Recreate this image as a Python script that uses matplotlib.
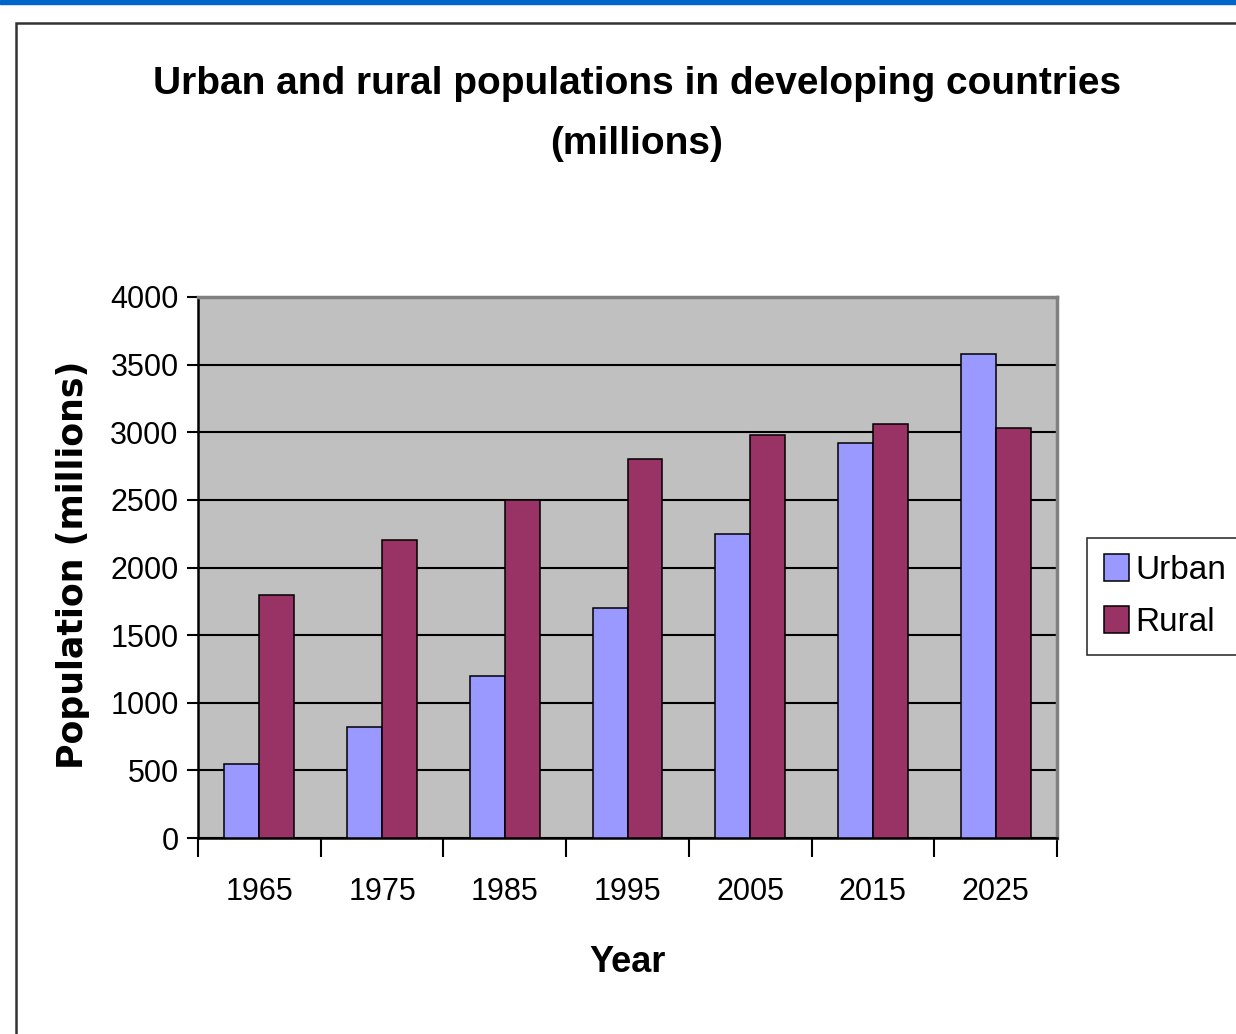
import matplotlib.pyplot as plt
import matplotlib.patches as patches
import numpy as np

years = ['1965', '1975', '1985', '1995', '2005', '2015', '2025']
urban = [550, 820, 1200, 1700, 2250, 2920, 3580]
rural = [1800, 2200, 2500, 2800, 2980, 3060, 3030]

narrow = ['Liberation Sans Narrow', 'Liberation Sans', 'DejaVu Sans']

W, H = 1236, 1034
fig = plt.figure(figsize=(W / 100, H / 100), dpi=100)

# blue strip on top and the outer chart frame
fig.patches.append(patches.Rectangle((0, 1 - 4 / H), 1, 4 / H, transform=fig.transFigure,
                                     color='#0066CC', zorder=0))
fig.patches.append(patches.Rectangle((16 / W, -0.1), 1.2, 1.1 - 23 / H, transform=fig.transFigure,
                                     fill=False, edgecolor='#333333', lw=1.8, zorder=0))

ax = fig.add_axes([198 / W, 196 / H, 859 / W, 541 / H])
ax.set_facecolor('#C0C0C0')

x = np.arange(len(years))
w = 0.285
ax.bar(x - w / 2, urban, w, color='#9999FF', edgecolor='black', lw=1.1, label='Urban', zorder=3)
ax.bar(x + w / 2, rural, w, color='#993366', edgecolor='black', lw=1.1, label='Rural', zorder=3)

ax.set_xlim(-0.5, len(years) - 0.5)
ax.set_ylim(0, 4000)
ax.set_yticks(np.arange(0, 4001, 500))
ax.yaxis.grid(True, color='black', lw=1.5, zorder=1)
ax.set_axisbelow(True)

ax.set_xticks(np.arange(-0.5, len(years), 1))
ax.set_xticklabels([])
ax.set_xticks(x, minor=True)
ax.set_xticklabels(years, minor=True, fontsize=22, family=narrow)
ax.tick_params(axis='x', which='major', length=14, width=1.5, direction='out')
ax.tick_params(axis='x', which='minor', length=0, pad=28)
ax.tick_params(axis='y', length=8, width=1.5, pad=6)
for lab in ax.get_yticklabels():
    lab.set_fontsize(22)
    lab.set_family(narrow)

for s in ['top', 'right']:
    ax.spines[s].set_color('#808080')
    ax.spines[s].set_linewidth(2.5)
for s in ['left', 'bottom']:
    ax.spines[s].set_color('black')
    ax.spines[s].set_linewidth(1.8)

fig.text(637 / W, 1 - 114 / H, 'Urban and rural populations in developing countries\n(millions)',
         ha='center', va='center', fontsize=28, fontweight='bold', family=narrow, linespacing=1.85)
fig.text(628 / W, 1 - 962 / H, 'Year', ha='center', va='center', fontsize=26,
         fontweight='bold', family=narrow)
fig.text(73 / W, 1 - 565 / H, 'Population (millions)', ha='center', va='center', rotation=90,
         fontsize=25, fontweight='bold', family='DejaVu Sans')

leg = fig.legend(loc='center left', bbox_to_anchor=(1087 / W, 1 - 596 / H),
                 prop={'family': narrow, 'size': 24}, frameon=True, fancybox=False,
                 edgecolor='black', handlelength=0.75, handleheight=0.85, handletextpad=0.2,
                 borderpad=0.5, labelspacing=0.6, borderaxespad=0)
leg.get_frame().set_linewidth(1.2)

fig.savefig('out.png', dpi=100)
